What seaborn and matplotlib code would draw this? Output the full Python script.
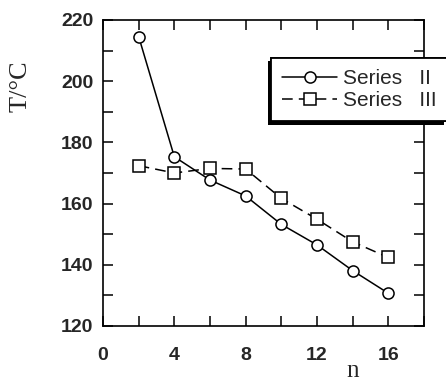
import pandas as pd
import seaborn as sns
import matplotlib.pyplot as plt
from matplotlib import patheffects
from matplotlib.ticker import MultipleLocator

# values
n_values = [2, 4, 6, 8, 10, 12, 14, 16]
series_ii = [214.6, 175.3, 167.7, 162.5, 153.2, 146.5, 138.1, 130.7]
series_iii = [172.4, 170.0, 171.5, 171.3, 161.7, 154.9, 147.5, 142.4]
series_names = ['Series   II', 'Series   III']
x_ticks = [0, 4, 8, 12, 16]

df = pd.DataFrame({
    'n': n_values * 2,
    'T': series_ii + series_iii,
    'series': [series_names[0]] * len(n_values) + [series_names[1]] * len(n_values),
})

sns.set_style('ticks')
plt.rcParams['font.family'] = ['Liberation Sans', 'DejaVu Sans']

fig = plt.figure(figsize=(4.46, 3.83), dpi=100)
ax = fig.add_axes([103 / 446, 1 - 326 / 383, 321 / 446, 306 / 383])

sns.lineplot(data=df, x='n', y='T', style='series', color='black',
             markers={series_names[0]: 'o', series_names[1]: 's'},
             dashes={series_names[0]: '', series_names[1]: (7, 4)},
             markersize=8, markerfacecolor='white', markeredgecolor='black',
             markeredgewidth=1.1, linewidth=1.1, ax=ax)

ax.set_xlim(0, 18)
ax.set_ylim(120, 220)
ax.set_xticks(x_ticks)
ax.xaxis.set_minor_locator(MultipleLocator(2))
ax.yaxis.set_major_locator(MultipleLocator(20))
ax.yaxis.set_minor_locator(MultipleLocator(10))
ax.tick_params(which='both', direction='in', top=True, right=True,
               length=7, width=1.1, color='black')
ax.tick_params(axis='x', which='major', pad=15)
ax.tick_params(axis='y', which='major', pad=7)
ax.set_xticklabels([str(v) for v in x_ticks])
for lab in ax.get_xticklabels() + ax.get_yticklabels():
    lab.set_fontsize(14)
    lab.set_fontweight('bold')
for s in ax.spines.values():
    s.set_linewidth(1.2)
    s.set_color('black')

ax.set_xlabel('')
ax.set_ylabel('')
fig.text(21 / 446, 1 - 86 / 383, 'T/°C', family='Liberation Serif', fontsize=19,
         rotation=90, ha='center', va='center')
fig.text(353 / 446, 1 - 371 / 383, 'n', family='Liberation Serif', fontsize=18,
         ha='center', va='center')

leg = ax.legend(loc='upper left', bbox_to_anchor=(271 / 446, 1 - 58 / 383),
                bbox_transform=fig.transFigure, frameon=True, fancybox=False,
                fontsize=15, handlelength=2.6, borderpad=0.55, labelspacing=0.12,
                handletextpad=0.3, borderaxespad=0)
leg.set_clip_on(False)
frame = leg.get_frame()
frame.set_edgecolor('black')
frame.set_linewidth(1.3)
frame.set_alpha(1)
frame.set_path_effects([
    patheffects.withSimplePatchShadow(offset=(-2.5, -2.5), shadow_rgbFace='black', alpha=1),
    patheffects.Normal()])

fig.savefig('out.png', dpi=100)
